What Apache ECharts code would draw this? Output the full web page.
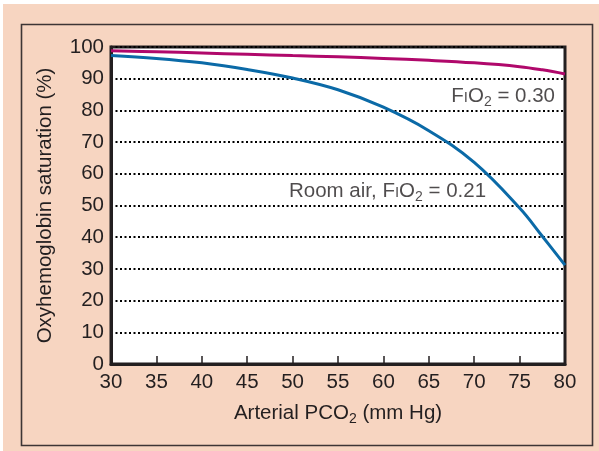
<!DOCTYPE html>
<html>
<head>
<meta charset="utf-8">
<script src="https://cdn.jsdelivr.net/npm/echarts@6/dist/echarts.min.js"></script>
<style>
html,body{margin:0;padding:0;background:#fff;}
#c{width:599px;height:451px;}
</style>
</head>
<body>
<div id="c"></div>
<script>
const pco2 = [30, 35, 40, 45, 50, 55, 60, 65, 70, 75, 77.5, 80];
const roomAir = [97.3, 96.4, 95.0, 92.9, 90.2, 86.5, 81.0, 73.6, 63.6, 49.2, 40.3, 31.2];
const fio30 = [98.8, 98.5, 98.1, 97.7, 97.3, 96.9, 96.4, 95.8, 95.0, 93.8, 92.8, 91.5];
const xTicks = [30, 35, 40, 45, 50, 55, 60, 65, 70, 75, 80];
const yTicks = [0, 10, 20, 30, 40, 50, 60, 70, 80, 90, 100];
const label30 = { x: 78.9, y: 84.3, text: 'F{sm|I}O{sub|2} = 0.30' };
const label21 = { x: 49.6, y: 54.5, text: 'Room air, F{sm|I}O{sub|2} = 0.21' };

const FONT = '"Liberation Sans", Arial, Helvetica, sans-serif';
const TXT = '#231f20';
const FS = 20.5;
const richStyle = {
  sm: { fontSize: 15, fontFamily: FONT, color: TXT, padding: [3, 0, 0, 0] },
  sub: { fontSize: 14, fontFamily: FONT, color: TXT, padding: [11, 0, 0, 0] }
};

const chart = echarts.init(document.getElementById('c'), null, { renderer: 'canvas' });
chart.setOption({
  backgroundColor: '#F7D5C1',
  animation: false,
  graphic: [
    { type: 'rect', left: 0, top: 0, shape: { width: 599, height: 4 }, style: { fill: '#ffffff' }, silent: true },
    { type: 'rect', left: 0, top: 0, shape: { width: 3, height: 451 }, style: { fill: '#ffffff' }, silent: true },
    { type: 'rect', left: 19, top: 22, shape: { width: 571, height: 421 }, style: { fill: 'none', stroke: '#3d3535', lineWidth: 1.6 }, silent: true }
  ],
  grid: {
    left: 111, right: 34, top: 47, bottom: 87,
    show: true, backgroundColor: '#ffffff', borderColor: TXT, borderWidth: 3
  },
  xAxis: {
    type: 'value', min: 30, max: 80, interval: 5,
    name: 'Arterial PCO{sub|2} (mm Hg)',
    nameLocation: 'middle', nameGap: 37,
    nameTextStyle: { fontSize: FS, fontFamily: FONT, color: TXT, rich: { sub: { fontSize: 14, fontFamily: FONT, color: TXT, padding: [11, 0, 0, 0] } } },
    axisLine: { show: true, lineStyle: { color: TXT, width: 3 } },
    axisTick: { show: true, inside: true, length: 8, lineStyle: { color: TXT, width: 1.5 } },
    axisLabel: { fontSize: FS, fontFamily: FONT, color: TXT, margin: 8,
      formatter: v => xTicks.includes(v) ? String(v) : '' },
    splitLine: { show: false }
  },
  yAxis: {
    type: 'value', min: 0, max: 100, interval: 10,
    name: 'Oxyhemoglobin saturation (%)',
    nameLocation: 'middle', nameGap: 55, nameRotate: 90,
    nameTextStyle: { fontSize: FS, fontFamily: FONT, color: TXT },
    axisLine: { show: true, lineStyle: { color: TXT, width: 3 } },
    axisTick: { show: false },
    axisLabel: { fontSize: FS, fontFamily: FONT, color: TXT, margin: 7,
      formatter: v => yTicks.includes(v) ? String(v) : '' },
    splitLine: { show: true, lineStyle: { color: '#000', width: 2, type: [2, 2.5] } }
  },
  series: [
    {
      name: 'FiO2 0.30', type: 'line', smooth: 0.4, symbol: 'none',
      data: pco2.map((x, i) => [x, fio30[i]]),
      lineStyle: { color: '#B0086B', width: 3 }, z: 3
    },
    {
      name: 'Room air', type: 'line', smooth: 0.4, symbol: 'none',
      data: pco2.map((x, i) => [x, roomAir[i]]),
      lineStyle: { color: '#0B6AA7', width: 3 }, z: 4
    },
    {
      name: 'labels', type: 'scatter', symbolSize: 0, silent: true,
      data: [
        { value: [label30.x, label30.y], label: { show: true, position: 'left', distance: 0, formatter: label30.text } },
        { value: [label21.x, label21.y], label: { show: true, position: 'right', distance: 0, formatter: label21.text } }
      ],
      label: { fontSize: FS, fontFamily: FONT, color: TXT, rich: richStyle },
      z: 5
    }
  ]
});
</script>
</body>
</html>
